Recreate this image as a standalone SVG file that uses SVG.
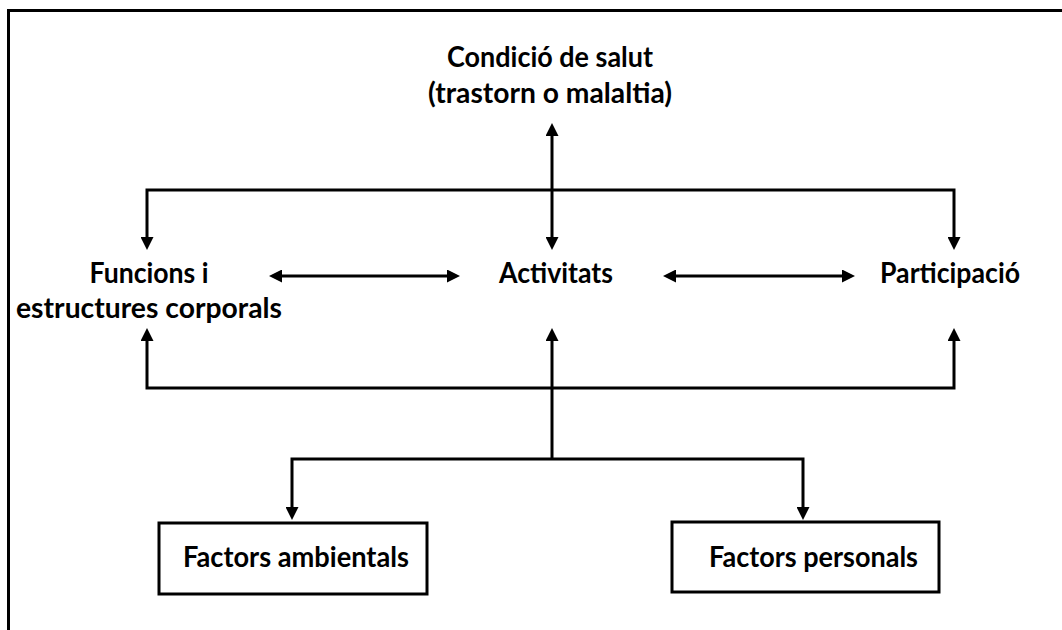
<svg xmlns="http://www.w3.org/2000/svg" width="1062" height="630" viewBox="0 0 1062 630">
  <style>
    .lbl { font-family: Lato, "Open Sans", "Liberation Sans", sans-serif; font-weight: bold; font-size: 28px; fill: #000; text-anchor: middle; }
    .wire { fill: none; stroke: #000; stroke-width: 3; }
    .box { fill: #fff; stroke: #000; stroke-width: 3; }
  </style>
  <defs>
    <marker id="arrow" viewBox="0 0 13 13" refX="9" refY="6.5" markerWidth="13" markerHeight="13" markerUnits="userSpaceOnUse" orient="auto-start-reverse">
      <path d="M0,0 L13,6.5 L0,13 z" fill="#000"/>
    </marker>
  </defs>

  <rect x="0" y="0" width="1062" height="630" fill="#fff"/>
  <!-- outer frame -->
  <rect x="8.5" y="10.5" width="1080" height="660" fill="none" stroke="#000" stroke-width="3"/>

  <g id="connectors">
    <!-- health condition <-> activities -->
    <path class="wire" d="M552,127 V246" marker-start="url(#arrow)" marker-end="url(#arrow)"/>
    <!-- upper bracket to body functions and participation -->
    <path class="wire" d="M147,246 V190 H954 V246" marker-start="url(#arrow)" marker-end="url(#arrow)"/>
    <!-- horizontal links in the middle row -->
    <path class="wire" d="M273,276 H456" marker-start="url(#arrow)" marker-end="url(#arrow)"/>
    <path class="wire" d="M667,276 H851" marker-start="url(#arrow)" marker-end="url(#arrow)"/>
    <!-- lower bracket from contextual factors -->
    <path class="wire" d="M147,332 V388 H954 V332" marker-start="url(#arrow)" marker-end="url(#arrow)"/>
    <path class="wire" d="M552,459 V332" marker-end="url(#arrow)"/>
    <!-- split to the two factor boxes -->
    <path class="wire" d="M292,516 V459 H803 V516" marker-start="url(#arrow)" marker-end="url(#arrow)"/>
  </g>

  <g id="condicio-salut">
    <text class="lbl" x="550" y="67" textLength="206" lengthAdjust="spacingAndGlyphs">Condició de salut</text>
    <text class="lbl" x="550" y="103" textLength="244" lengthAdjust="spacingAndGlyphs">(trastorn o malaltia)</text>
  </g>

  <g id="funcions">
    <text class="lbl" x="149" y="283" textLength="119" lengthAdjust="spacingAndGlyphs">Funcions i</text>
    <text class="lbl" x="149" y="318" textLength="266" lengthAdjust="spacingAndGlyphs">estructures corporals</text>
  </g>

  <g id="activitats">
    <text class="lbl" x="556" y="283" textLength="114" lengthAdjust="spacingAndGlyphs">Activitats</text>
  </g>

  <g id="participacio">
    <text class="lbl" x="950" y="283" textLength="140" lengthAdjust="spacingAndGlyphs">Participació</text>
  </g>

  <g id="factors-ambientals">
    <rect class="box" x="159" y="523" width="268" height="71"/>
    <text class="lbl" x="296" y="567" textLength="226" lengthAdjust="spacingAndGlyphs">Factors ambientals</text>
  </g>

  <g id="factors-personals">
    <rect class="box" x="672" y="522" width="267" height="70"/>
    <text class="lbl" x="813.5" y="567" textLength="209" lengthAdjust="spacingAndGlyphs">Factors personals</text>
  </g>
</svg>
